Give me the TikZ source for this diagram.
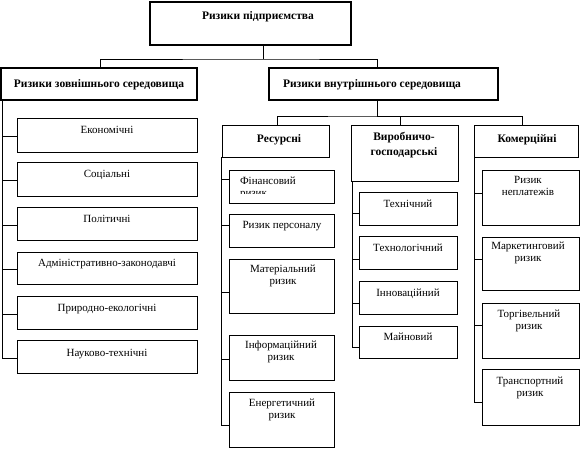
\documentclass[tikz,border=0pt]{standalone}
\usepackage{fontspec}
\setmainfont{Liberation Serif}
\newfontfamily\tnrfont{Liberation Serif}
\newcommand\mybox[6]{\node[#6, minimum width={(#4-#2)*1pt}, minimum height={(#5-#3)*1pt}] (#1) at ({(#2+#4)/2},{(#3+#5)/2}) {};}
\begin{document}
\begin{tikzpicture}[x=1pt,y=-1pt,
  every node/.style={inner sep=0pt, outer sep=0pt},
  hbox/.style={draw, line width=1.8pt},
  cbox/.style={draw, line width=0.9pt},
  conn/.style={line width=0.9pt},
  txt/.style={font=\tnrfont\fontsize{11}{12}\selectfont, align=center, anchor=north, execute at begin node=\strut},
  ltxt/.style={font=\tnrfont\fontsize{11}{12}\selectfont, align=left, anchor=north west, execute at begin node=\strut},
  btxt/.style={font=\tnrfont\fontsize{11.5}{15}\selectfont\bfseries, align=center, anchor=north, execute at begin node=\strut}]
\useasboundingbox (0,0) rectangle (583,448);
% headings
\mybox{top}{150}{2}{351}{45}{hbox}
\mybox{ext}{1}{68}{197}{100}{hbox}
\mybox{int}{269}{68}{498}{100}{hbox}
\node[btxt] (top-t) at (258,9) {Ризики підприємства};
\node[btxt] (ext-t) at (99,77) {Ризики зовнішнього середовища};
\node[btxt] (int-t) at (372,77) {Ризики внутрішнього середовища};
% categories
\mybox{res}{222}{125}{329}{157}{cbox}
\mybox{pro}{351}{125}{458}{181}{cbox}
\mybox{com}{474}{125}{578}{157}{cbox}
\node[btxt] (res-t) at (279,132) {Ресурсні};
\node[btxt] (pro-t) at (404,132) {Виробничо-\\господарські};
\node[btxt] (com-t) at (527,132) {Комерційні};
% external children
\mybox{e1}{17}{118}{197}{152}{cbox}
\mybox{e2}{17}{162}{197}{196}{cbox}
\mybox{e3}{17}{207}{197}{240}{cbox}
\mybox{e4}{17}{252}{197}{284}{cbox}
\mybox{e5}{17}{296}{197}{329}{cbox}
\mybox{e6}{17}{340}{197}{373}{cbox}
\node[txt] (e1-t) at (107,125) {Економічні};
\node[txt] (e2-t) at (107,169) {Соціальні};
\node[txt] (e3-t) at (107,214) {Політичні};
\node[txt] (e4-t) at (107,258) {Адміністративно-законодавчі};
\node[txt] (e5-t) at (107,303) {Природно-екологічні};
\node[txt] (e6-t) at (107,348) {Науково-технічні};
% resources children
\mybox{r1}{229}{170}{334}{203}{cbox}
\mybox{r2}{229}{214}{334}{247}{cbox}
\mybox{r3}{229}{259}{334}{313}{cbox}
\mybox{r4}{229}{335}{334}{380}{cbox}
\mybox{r5}{229}{392}{334}{447}{cbox}
\begin{scope}
\clip (229,170) rectangle (334,193);
\node[ltxt] (r1-t) at (240,177) {Фінансовий\\ризик};
\end{scope}
\node[txt] (r2-t) at (282,220) {Ризик персоналу};
\node[txt] (r3-t) at (283,265) {Матеріальний\\ризик};
\node[txt] (r4-t) at (281,341) {Інформаційний\\ризик};
\node[txt] (r5-t) at (282,399) {Енергетичний\\ризик};
% production children
\mybox{p1}{359}{192}{457}{225}{cbox}
\mybox{p2}{359}{236}{457}{269}{cbox}
\mybox{p3}{359}{281}{457}{314}{cbox}
\mybox{p4}{359}{326}{457}{358}{cbox}
\node[txt] (p1-t) at (408,199) {Технічний};
\node[txt] (p2-t) at (408,243) {Технологічний};
\node[txt] (p3-t) at (408,288) {Інноваційний};
\node[txt] (p4-t) at (408,332) {Майновий};
% commercial children
\mybox{c1}{482}{170}{579}{225}{cbox}
\mybox{c2}{482}{237}{579}{290}{cbox}
\mybox{c3}{482}{303}{579}{358}{cbox}
\mybox{c4}{482}{369}{579}{425}{cbox}
\node[txt] (c1-t) at (528,176) {Ризик\\неплатежів};
\node[txt] (c2-t) at (528,242) {Маркетинговий\\ризик};
\node[txt] (c3-t) at (529,310) {Торгівельний\\ризик};
\node[txt] (c4-t) at (530,377) {Транспортний\\ризик};
% connectors: top level
\coordinate (j) at (263,59);
\coordinate (k) at (377,116);
\draw[conn] (top.south -| j) -- (j);
\draw[conn] ([xshift=1.5pt]ext.north) |- (j) -| ([xshift=-6.5pt]int.north);
\draw[conn] (int.south -| k) -- (k);
\draw[conn] ([xshift=1.5pt]res.north) |- (k) -| ([xshift=-4.5pt]pro.north);
\draw[conn] (k) -| ([xshift=-4pt]com.north);
% trunks
\coordinate (eT) at (2,100);
\coordinate (rT) at (221,157);
\coordinate (pT) at (352,181);
\coordinate (cT) at (474,157);
\foreach \b in {e1,e2,e3,e4,e5,e6} \draw[conn] (eT) |- ([yshift=-1.5pt]\b.west);
\draw[conn] (rT) |- ([yshift=7.5pt]r1.west);
\draw[conn] (rT) |- ([yshift=5.5pt]r2.west);
\draw[conn] (rT) |- ([yshift=-6pt]r3.west);
\draw[conn] (rT) |- ([yshift=-1.5pt]r4.west);
\draw[conn] (rT) |- ([yshift=-5.5pt]r5.west);
\draw[conn] (pT) |- ([yshift=-4.5pt]p1.west);
\draw[conn] (pT) |- ([yshift=-6.5pt]p2.west);
\draw[conn] (pT) |- ([yshift=-5.5pt]p3.west);
\draw[conn] (pT) |- ([yshift=-5pt]p4.west);
\draw[conn] (cT) |- ([yshift=4.5pt]c1.west);
\draw[conn] (cT) |- ([yshift=4.5pt]c2.west);
\draw[conn] (cT) |- ([yshift=5.5pt]c3.west);
\draw[conn] (cT) |- ([yshift=-5pt]c4.west);
\end{tikzpicture}
\end{document}
